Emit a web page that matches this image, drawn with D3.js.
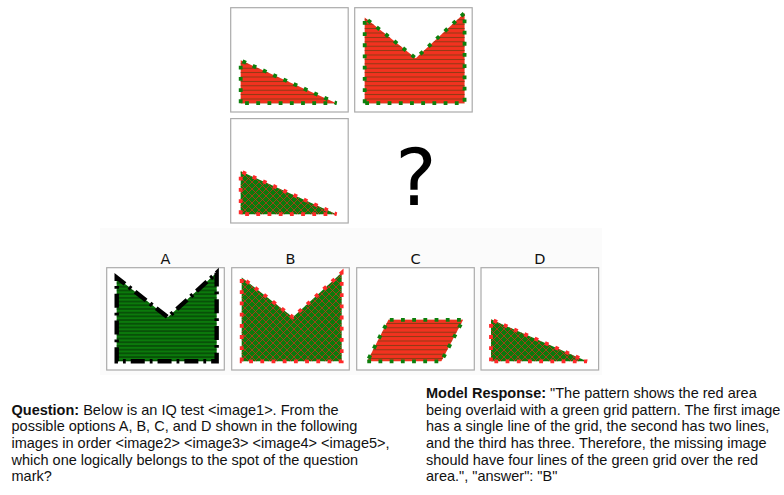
<!DOCTYPE html>
<html><head><meta charset="utf-8">
<script src="https://cdn.jsdelivr.net/npm/d3@7"></script>
<style>body{margin:0;background:#fff}svg{display:block}</style>
</head><body>
<svg id="c" width="784" height="495"></svg>
<script>
// ---- data (shape vertices in panel units 0..100) ----
const triangle = [[8.5,8.5],[8.5,49.5],[90,8.5]];
const mShape = [[8.5,8.5],[8.5,90.5],[52,51.5],[93.5,95],[93.5,8.5]];
const parallelogram = [[9,8.5],[72,8.5],[90.5,49],[27,49]];
const optionLabels = ["A","B","C","D"];
const questionLines = [
  "Below is an IQ test <image1>. From the",
  "possible options A, B, C, and D shown in the following",
  "images in order <image2> <image3> <image4> <image5>,",
  "which one logically belongs to the spot of the question",
  "mark?"
];
const responseLines = [
  "\"The pattern shows the red area",
  "being overlaid with a green grid pattern. The first image",
  "has a single line of the grid, the second has two lines,",
  "and the third has three. Therefore, the missing image",
  "should have four lines of the green grid over the red",
  "area.\", \"answer\": \"B\""
];

const RED = "#f2321f", GREEN = "#0b7a0b";
const svg = d3.select("#c");
const defs = svg.append("defs");

function hPattern(id, color, gap, w){
  const p = defs.append("pattern").attr("id",id).attr("patternUnits","userSpaceOnUse")
    .attr("width",8).attr("height",gap);
  p.append("line").attr("x1",0).attr("x2",8).attr("y1",gap/2).attr("y2",gap/2)
    .attr("stroke",color).attr("stroke-width",w);
}
hPattern("hGreen","#8a3a14",4.4,1);
hPattern("hBlack","#052e05",3.7,1);
const T = 7;
const xp = defs.append("pattern").attr("id","xRed").attr("patternUnits","userSpaceOnUse")
  .attr("width",T).attr("height",T);
xp.append("path").attr("d",`M0,0L${T},${T}M0,${T}L${T},0M-1,${T-1}L1,${T+1}M${T-1},-1L${T+1},1M-1,1L1,-1M${T-1},${T+1}L${T+1},${T-1}`)
  .attr("stroke","#c8301c").attr("stroke-width",0.75).attr("fill","none");

const styles = {
  redH:   {fill:RED,   hatch:"url(#hGreen)", stroke:"#0c800c", width:3.8, dash:"3.8 7.4"},
  greenX: {fill:GREEN, hatch:"url(#xRed)",   stroke:"#ff2a2a", width:3.8, dash:"3.8 7.4"},
  greenH: {fill:GREEN, hatch:"url(#hBlack)", stroke:"#000",    width:4.4, dash:"14 5 2.8 5"}
};

function panel(x0,y0,w,h,shape,style){
  const g = svg.append("g");
  g.append("rect").attr("x",x0).attr("y",y0).attr("width",w).attr("height",h)
    .attr("fill","#fff").attr("stroke","#ababab").attr("stroke-width",1.2);
  if(!shape) return g;
  const sx = d3.scaleLinear().domain([0,100]).range([x0,x0+w]);
  const sy = d3.scaleLinear().domain([0,100]).range([y0+h,y0]);
  const line = d3.line().x(d=>sx(d[0])).y(d=>sy(d[1])).curve(d3.curveLinearClosed);
  const s = styles[style];
  g.append("path").attr("d",line(shape)).attr("fill",s.fill);
  g.append("path").attr("d",line(shape)).attr("fill",s.hatch);
  g.append("path").attr("d",line(shape)).attr("fill","none").attr("stroke",s.stroke)
    .attr("stroke-width",s.width).attr("stroke-dasharray",s.dash).attr("stroke-linejoin","miter");
  return g;
}

// top matrix
panel(230.7,7.7,117.5,104.3,triangle,"redH");
panel(354.7,7.7,117.5,104.3,mShape,"redH");
panel(230.7,118.6,117.5,104.4,triangle,"greenX");
svg.append("text").attr("x",416).attr("y",205).attr("text-anchor","middle")
  .attr("font-family","DejaVu Sans").attr("font-size",78).attr("fill","#000").text("?");

// options area
svg.append("rect").attr("x",100).attr("y",228).attr("width",502).attr("height",147).attr("fill","#fbfbfb");
const optX = [106.7,231.7,356.7,481];
const optShapes = [mShape,mShape,parallelogram,triangle];
const optStyles = ["greenH","greenX","redH","greenX"];
optionLabels.forEach((L,i)=>{
  panel(optX[i],267.7,117.6,102.3,optShapes[i],optStyles[i]);
  svg.append("text").attr("x",optX[i]+58.8).attr("y",263.5).attr("text-anchor","middle")
    .attr("font-family","DejaVu Sans").attr("font-size",14.5).attr("fill","#111").text(L);
});

// text blocks
function block(x,y0,label,lines){
  const lh = 16.7;
  lines.forEach((t,i)=>{
    const tx = svg.append("text").attr("x",x).attr("y",y0+i*lh)
      .attr("font-family","Liberation Sans, Arial").attr("font-size",14.5).attr("fill","#111");
    if(i===0){
      tx.append("tspan").attr("font-weight","bold").text(label+" ");
      tx.append("tspan").text(t);
    } else tx.text(t);
  });
}
block(11.5,414.5,"Question:",questionLines);
block(426,397.8,"Model Response:",responseLines);
</script>
</body></html>
